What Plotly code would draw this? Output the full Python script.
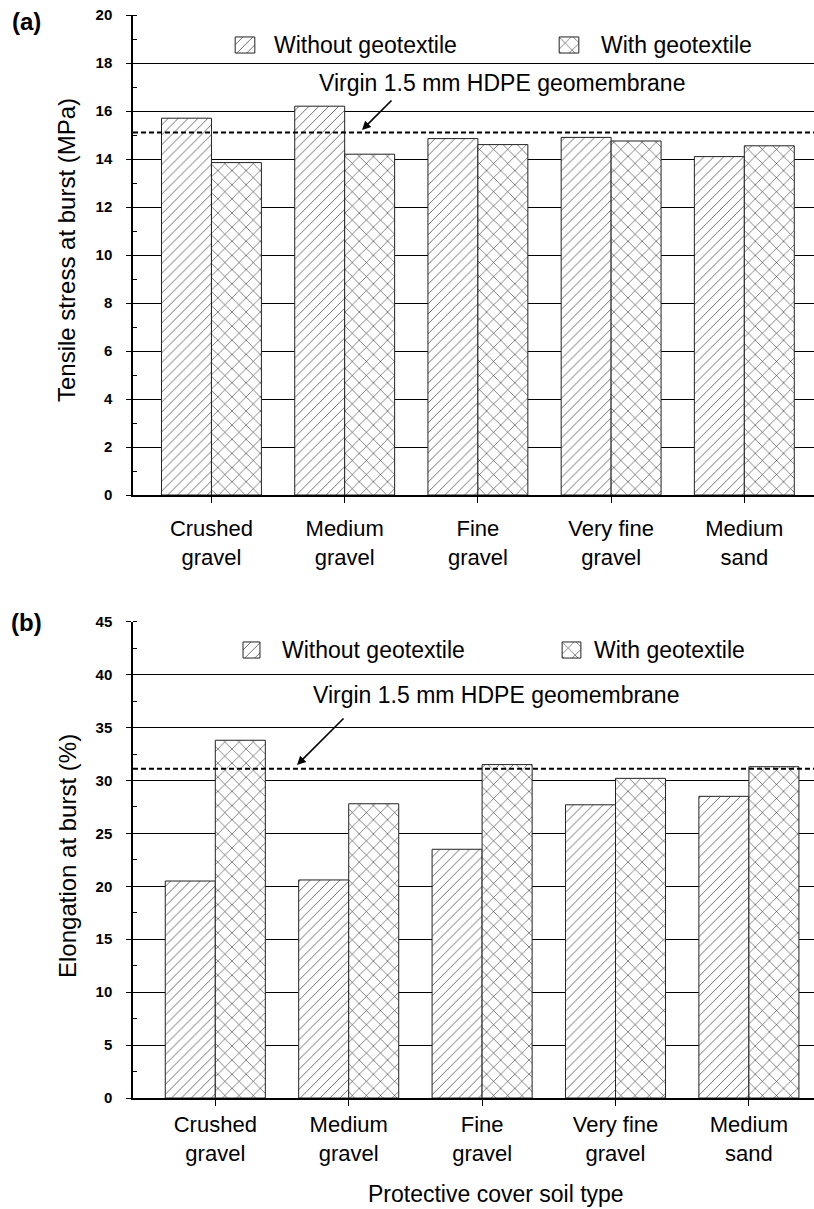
import plotly.graph_objects as go

# Burst test results for 1.5 mm HDPE geomembrane under different protective covers
soil_types = ["Crushed<br>gravel", "Medium<br>gravel", "Fine<br>gravel",
              "Very fine<br>gravel", "Medium<br>sand"]
stress_without = [15.7, 16.2, 14.85, 14.9, 14.1]
stress_with = [13.85, 14.2, 14.6, 14.75, 14.55]
elong_without = [20.5, 20.6, 23.5, 27.7, 28.5]
elong_with = [33.8, 27.8, 31.5, 30.2, 31.3]
virgin_stress = 15.1
virgin_elong = 31.1
series_names = ["Without geotextile", "With geotextile"]

W, H = 814, 1209
FONT = "Liberation Sans, Arial, Helvetica, sans-serif"
idx = list(range(len(soil_types)))


def fx(p):
    return p / W


def fy(p):
    return 1 - p / H


def hatch(shape):
    if shape == "/":
        pat = dict(shape="/", size=7, solidity=0.1, fgcolor="#333", bgcolor="white")
    else:
        pat = dict(shape="x", size=10, solidity=0.1, fgcolor="#111", bgcolor="white")
    return dict(color="white", line=dict(color="#222", width=1), pattern=pat)


fig = go.Figure()
for xa, ya, vals in [("x", "y", (stress_without, stress_with)),
                     ("x2", "y2", (elong_without, elong_with))]:
    for name, shape, v in zip(series_names, ["/", "x"], vals):
        fig.add_bar(x=idx, y=v, name=name, xaxis=xa, yaxis=ya,
                    marker=hatch(shape), showlegend=False)

xdom = [fx(133), 1]


def xaxis(rng, anchor, standoff):
    return dict(domain=xdom, range=rng, anchor=anchor, tickvals=idx, ticktext=soil_types,
                ticks="outside", ticklen=6, tickcolor="black", tickwidth=1.2,
                showline=True, linecolor="black", linewidth=1.5, showgrid=False,
                zeroline=False, automargin=False, ticklabelstandoff=standoff,
                tickfont=dict(size=22, color="black", family=FONT))


def yaxis(dom, rng, dtick, minor, anchor):
    return dict(domain=dom, range=rng, anchor=anchor, dtick=dtick, tick0=0,
                showgrid=True, gridcolor="black", gridwidth=1.2,
                showline=True, linecolor="black", linewidth=1.5, zeroline=False,
                ticks="outside", ticklen=5, tickcolor="black", tickwidth=1.2,
                ticklabelstandoff=11, automargin=False,
                tickfont=dict(size=15, color="black", family=FONT, weight="bold"),
                minor=dict(dtick=minor, tick0=0, ticks="inside", ticklen=4,
                           tickcolor="black", tickwidth=1, showgrid=False))


layout_axes = dict(
    xaxis=xaxis([-0.589, 4.523], "y", 7),
    yaxis=yaxis([fy(495), fy(15)], [0, 20], 2, 1, "x"),
    xaxis2=xaxis([-0.617, 4.488], "y2", 0),
    yaxis2=yaxis([fy(1098), fy(621.7)], [0, 45], 5, 2.5, "x2"),
)

annotations = [
    dict(text="<b>(a)</b>", x=fx(27), y=fy(22), font=dict(size=24)),
    dict(text="<b>(b)</b>", x=fx(27), y=fy(622), font=dict(size=24)),
    dict(text="Tensile stress at burst (MPa)", x=fx(67), y=fy(250), textangle=-90,
         font=dict(size=24)),
    dict(text="Elongation at burst (%)", x=fx(67), y=fy(856), textangle=-90,
         font=dict(size=24)),
    dict(text="Virgin 1.5 mm HDPE geomembrane", x=fx(502), y=fy(83), font=dict(size=23)),
    dict(text="Virgin 1.5 mm HDPE geomembrane", x=fx(496), y=fy(695), font=dict(size=23)),
    dict(text="Protective cover soil type", x=fx(496), y=fy(1194), font=dict(size=23)),
]
for a in annotations:
    a.update(xanchor="center")

# key boxes: small patterned bars in their own tiny axes, with labels beside them
keys = [  # (swatch left, right, top, bottom, text left, text y, series index)
    (234, 256, 36, 54, 272, 45, 0),
    (558, 580, 36, 54, 599, 45, 1),
    (242, 261, 641, 659, 280, 650, 0),
    (561, 582, 641, 659, 592, 650, 1),
]
for k, (l, r, t, b, tx, ty, s) in enumerate(keys, start=3):
    layout_axes[f"xaxis{k}"] = dict(domain=[fx(l), fx(r)], range=[-0.56, 0.56],
                                    visible=False, anchor=f"y{k}", fixedrange=True)
    layout_axes[f"yaxis{k}"] = dict(domain=[fy(b), fy(t)], range=[-0.06, 1.06],
                                    visible=False, anchor=f"x{k}", fixedrange=True)
    fig.add_bar(x=[0], y=[1], width=[1], xaxis=f"x{k}", yaxis=f"y{k}",
                marker=hatch(["/", "x"][s]), showlegend=False, hoverinfo="skip")
    annotations.append(dict(text=series_names[s], x=fx(tx), y=fy(ty), xanchor="left",
                            font=dict(size=23)))

for a in annotations:
    a.update(xref="paper", yref="paper", showarrow=False, yanchor="middle")

# arrows pointing at the virgin-sheet reference lines
for tip, tail in [((362, 130), (393, 99)), ((297, 765), (345, 717))]:
    annotations.append(dict(text="", xref="paper", yref="paper", x=fx(tip[0]), y=fy(tip[1]),
                            ax=tail[0] - tip[0], ay=tail[1] - tip[1], showarrow=True,
                            arrowhead=2, arrowsize=1.1, arrowwidth=1.6, arrowcolor="black",
                            standoff=0, startstandoff=0))

shapes = [
    dict(type="line", xref="x domain", yref="y", x0=0, x1=1, y0=virgin_stress,
         y1=virgin_stress, line=dict(color="black", width=2, dash="5px,3px"), layer="above"),
    dict(type="line", xref="x2 domain", yref="y2", x0=0, x1=1, y0=virgin_elong,
         y1=virgin_elong, line=dict(color="black", width=2, dash="5px,3px"), layer="above"),
]

fig.update_layout(
    template="none",
    width=W, height=H,
    margin=dict(l=0, r=0, t=0, b=0),
    paper_bgcolor="white", plot_bgcolor="white",
    font=dict(family=FONT, color="black"),
    barmode="group", bargap=0.25, bargroupgap=0,
    annotations=annotations,
    shapes=shapes,
    showlegend=False,
    **layout_axes,
)

fig.write_html("out.html")
